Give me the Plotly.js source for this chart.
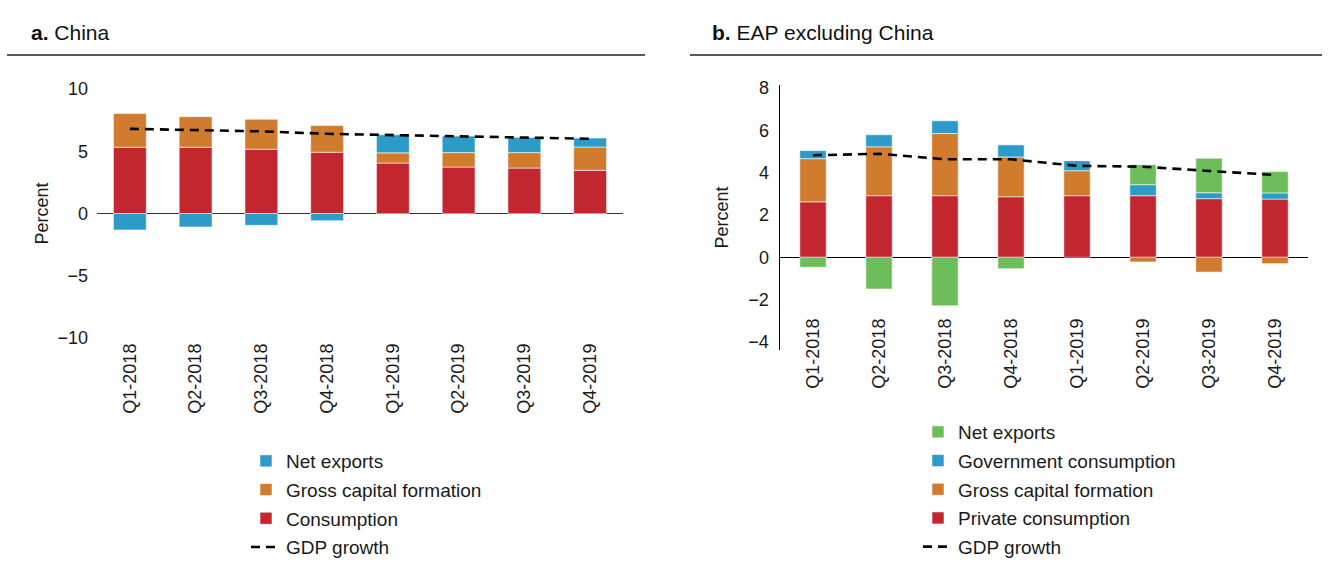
<!DOCTYPE html>
<html>
<head>
<meta charset="utf-8">
<script src="https://cdn.plot.ly/plotly-3.0.1.min.js"></script>
<style>html,body{margin:0;padding:0;background:#fff;}#chart{width:1328px;height:571px;}</style>
</head>
<body>
<div id="chart"></div>
<script>
// ---- Data ----
const quarters = ["Q1-2018","Q2-2018","Q3-2018","Q4-2018","Q1-2019","Q2-2019","Q3-2019","Q4-2019"];

// Panel a: China
const chinaConsumption = [5.32, 5.32, 5.16, 4.92, 4.05, 3.73, 3.65, 3.47];
const chinaGCF         = [2.72, 2.46, 2.41, 2.14, 0.82, 1.16, 1.24, 1.87];
const chinaNetExports  = [-1.32, -1.08, -0.95, -0.58, 1.45, 1.33, 1.22, 0.72];
const chinaGDP         = [6.8, 6.7, 6.6, 6.4, 6.3, 6.2, 6.1, 6.0];

// Panel b: EAP excluding China
const eapPrivate   = [2.62, 2.91, 2.91, 2.86, 2.91, 2.91, 2.77, 2.75];
const eapGCF       = [2.04, 2.31, 2.94, 1.88, 1.18, -0.22, -0.70, -0.30];
const eapGov       = [0.38, 0.57, 0.60, 0.57, 0.48, 0.52, 0.28, 0.29];
const eapNetExp    = [-0.47, -1.50, -2.29, -0.54, 0.0, 0.95, 1.63, 1.01];
const eapGDP       = [4.82, 4.89, 4.63, 4.63, 4.32, 4.28, 4.08, 3.89];

// ---- Style ----
const W = 1328, H = 571;
const FONT = "Liberation Sans, Arial, sans-serif";
const RED = "#C2272F", ORANGE = "#D07B2E", BLUE = "#2D9BC8", GREEN = "#6DBE5B";
const px = v => v / W;
const py = v => (H - v) / H;
const edge = {color: "rgba(255,255,255,0.55)", width: 1};

const traces = [
  {type:"bar", x:quarters, y:chinaConsumption, name:"Consumption", marker:{color:RED, line:edge}, width:0.5, xaxis:"x", yaxis:"y", legend:"legend", legendgroup:"a3", legendrank:3},
  {type:"bar", x:quarters, y:chinaGCF, name:"Gross capital formation", marker:{color:ORANGE, line:edge}, width:0.5, xaxis:"x", yaxis:"y", legend:"legend", legendgroup:"a2", legendrank:2},
  {type:"bar", x:quarters, y:chinaNetExports, name:"Net exports", marker:{color:BLUE, line:edge}, width:0.5, xaxis:"x", yaxis:"y", legend:"legend", legendgroup:"a1", legendrank:1},
  {type:"scatter", mode:"lines", x:quarters, y:chinaGDP, name:"GDP growth", line:{color:"#000", width:2.6, dash:"9px,6px"}, xaxis:"x", yaxis:"y", legend:"legend", legendgroup:"a4", legendrank:4},

  {type:"bar", x:quarters, y:eapPrivate, name:"Private consumption", marker:{color:RED, line:edge}, width:0.4, xaxis:"x2", yaxis:"y2", legend:"legend2", legendgroup:"b4", legendrank:4},
  {type:"bar", x:quarters, y:eapGCF, name:"Gross capital formation", marker:{color:ORANGE, line:edge}, width:0.4, xaxis:"x2", yaxis:"y2", legend:"legend2", legendgroup:"b3", legendrank:3},
  {type:"bar", x:quarters, y:eapGov, name:"Government consumption", marker:{color:BLUE, line:edge}, width:0.4, xaxis:"x2", yaxis:"y2", legend:"legend2", legendgroup:"b2", legendrank:2},
  {type:"bar", x:quarters, y:eapNetExp, name:"Net exports", marker:{color:GREEN, line:edge}, width:0.4, xaxis:"x2", yaxis:"y2", legend:"legend2", legendgroup:"b1", legendrank:1},
  {type:"scatter", mode:"lines", x:quarters, y:eapGDP, name:"GDP growth", line:{color:"#000", width:2.6, dash:"9px,6px"}, xaxis:"x2", yaxis:"y2", legend:"legend2", legendgroup:"b5", legendrank:5}
];

const tickfont = {family:FONT, size:18, color:"#1a1a1a"};
const legendFont = {family:FONT, size:19, color:"#1a1a1a"};

const layout = {
  width:W, height:H,
  margin:{l:0, r:0, t:0, b:0, autoexpand:false},
  paper_bgcolor:"#fff", plot_bgcolor:"#fff",
  barmode:"relative",
  font:{family:FONT, color:"#1a1a1a"},
  xaxis:{domain:[px(97), px(623)], anchor:"y", type:"category", showgrid:false, showline:false, zeroline:false, ticks:"", tickangle:-90, tickfont:tickfont, ticklabelstandoff:1},
  yaxis:{domain:[py(338), py(89)], anchor:"x", range:[-10,10], dtick:5, showgrid:false, showline:false, zeroline:true, zerolinecolor:"#333", zerolinewidth:1.3, ticks:"", tickfont:tickfont, ticklabelstandoff:8,
         title:{text:"Percent", font:{family:FONT, size:18, color:"#1a1a1a"}, standoff:4}},
  xaxis2:{domain:[px(780), px(1308)], anchor:"free", position:py(314), type:"category", showgrid:false, showline:false, zeroline:false, ticks:"", tickangle:-90, tickfont:tickfont},
  yaxis2:{domain:[py(350), py(85)], anchor:"x2", range:[-4.38, 8.14], tickvals:[-4,-2,0,2,4,6,8], showgrid:false, showline:true, linecolor:"#000", linewidth:1.5, zeroline:true, zerolinecolor:"#000", zerolinewidth:1.5, ticks:"", tickfont:tickfont, ticklabelstandoff:6,
          title:{text:"Percent", font:{family:FONT, size:18, color:"#1a1a1a"}, standoff:15}},
  legend:{x:px(246), xanchor:"left", y:py(442), yanchor:"top", font:legendFont, bgcolor:"rgba(0,0,0,0)", borderwidth:0, tracegroupgap:1, itemclick:false, itemdoubleclick:false},
  legend2:{x:px(918), xanchor:"left", y:py(413), yanchor:"top", font:legendFont, bgcolor:"rgba(0,0,0,0)", borderwidth:0, tracegroupgap:1, itemclick:false, itemdoubleclick:false},
  showlegend:true,
  annotations:[
    {xref:"paper", yref:"paper", x:px(29), y:py(32), xanchor:"left", yanchor:"middle", showarrow:false, text:"<b>a.</b> China", font:{family:FONT, size:21, color:"#111"}},
    {xref:"paper", yref:"paper", x:px(710), y:py(32), xanchor:"left", yanchor:"middle", showarrow:false, text:"<b>b.</b> EAP excluding China", font:{family:FONT, size:21, color:"#111"}}
  ],
  shapes:[
    {type:"line", xref:"paper", yref:"paper", x0:px(7), x1:px(645), y0:py(55), y1:py(55), line:{color:"#222", width:1.5}},
    {type:"line", xref:"paper", yref:"paper", x0:px(690), x1:px(1322), y0:py(55), y1:py(55), line:{color:"#222", width:1.5}}
  ]
};

Plotly.newPlot("chart", traces, layout, {displayModeBar:false, staticPlot:true});
</script>
</body>
</html>
